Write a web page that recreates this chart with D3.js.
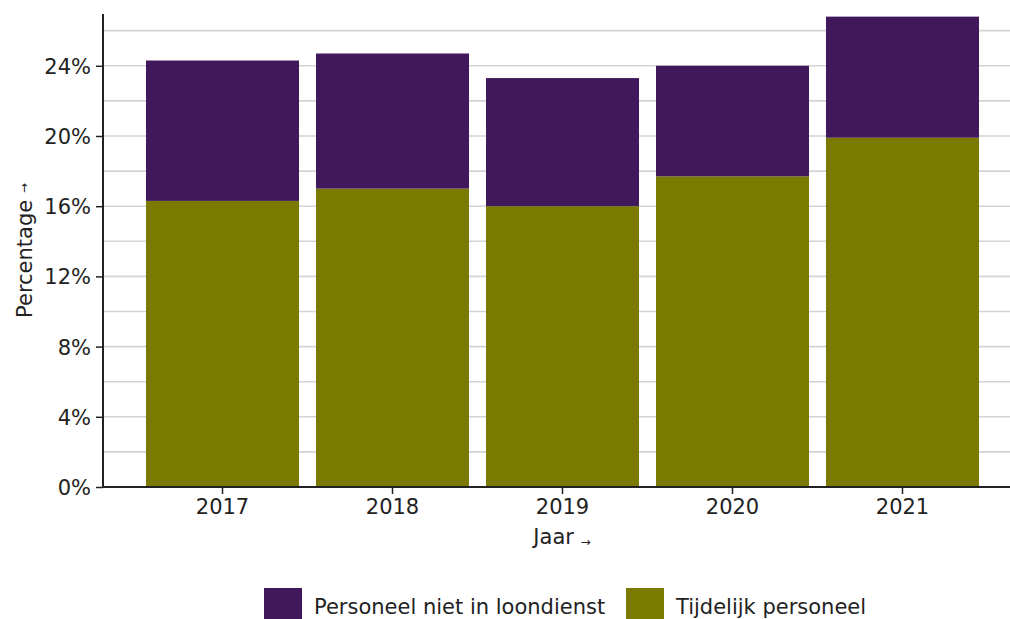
<!DOCTYPE html>
<html><head><meta charset="utf-8">
<script src="https://cdn.jsdelivr.net/npm/d3@7"></script>
<style>
html,body{margin:0;padding:0;background:#fff;overflow:hidden}
text{font-family:"DejaVu Sans",Verdana,sans-serif;fill:#222}
</style></head>
<body>
<svg id="chart" width="1010" height="619"></svg>
<script>
const years = ["2017","2018","2019","2020","2021"];
const tijdelijk = [16.3, 17.0, 16.0, 17.7, 19.9];
const nietLoondienst = [8.0, 7.7, 7.3, 6.3, 6.9];
const seriesNames = ["Personeel niet in loondienst", "Tijdelijk personeel"];
const seriesColors = ["#42185c", "#7a7a00"];
const yTicks = [0, 4, 8, 12, 16, 20, 24];
const yGrid = [2, 6, 10, 14, 18, 22, 26];

const svg = d3.select("#chart");
const x0 = 103, x1 = 1022, yBottom = 487, yTop = 14;
const FS = "21px";

const x = d3.scaleBand().domain(years).range([x0, x1]).paddingInner(0.1).paddingOuter(0.253);
const y = d3.scaleLinear().domain([0, 26.95]).range([yBottom, yTop]);

// gridlines
const grid = svg.append("g");
grid.selectAll("line").data(yTicks.concat(yGrid).filter(d => d > 0)).join("line")
  .attr("x1", x0).attr("x2", 1010)
  .attr("y1", d => y(d)).attr("y2", d => y(d))
  .attr("stroke", "#d3d3d3").attr("stroke-width", 1.6);

// stacked data
const data = years.map((yr, i) => ({year: yr, t: tijdelijk[i], n: nietLoondienst[i]}));
const stack = d3.stack().keys(["t", "n"])(data);
const colorByKey = {t: seriesColors[1], n: seriesColors[0]};

svg.append("g").selectAll("g").data(stack).join("g")
  .attr("fill", d => colorByKey[d.key])
  .selectAll("rect").data(d => d).join("rect")
  .attr("x", d => x(d.data.year))
  .attr("width", x.bandwidth())
  .attr("y", d => y(d[1]))
  .attr("height", d => y(d[0]) - y(d[1]));

// y axis
const yAxis = svg.append("g").attr("transform", `translate(${x0},0)`)
  .call(d3.axisLeft(y).tickValues(yTicks).tickFormat(d => d + "%").tickSize(7).tickPadding(5));
yAxis.select(".domain").attr("stroke", "#222").attr("stroke-width", 2).attr("d", `M0,${yTop}V${yBottom}`);
yAxis.selectAll(".tick line").attr("stroke", "#222").attr("stroke-width", 1.5);
yAxis.selectAll(".tick text").style("font-size", FS).style("font-family", '"DejaVu Sans",Verdana,sans-serif').attr("fill", "#222").attr("dy", "0.36em");

// x axis
const xAxis = svg.append("g").attr("transform", `translate(0,${yBottom})`)
  .call(d3.axisBottom(x).tickSize(7).tickPadding(5));
xAxis.select(".domain").attr("stroke", "#222").attr("stroke-width", 2).attr("d", `M${x0},0H1010`);
xAxis.selectAll(".tick line").attr("stroke", "#222").attr("stroke-width", 1.5);
xAxis.selectAll(".tick text").style("font-size", FS).style("font-family", '"DejaVu Sans",Verdana,sans-serif').attr("fill", "#222");

// axis titles
const xt = svg.append("text").attr("x", 562).attr("y", 544).attr("text-anchor", "middle").style("font-size", FS);
xt.append("tspan").text("Jaar ");
xt.append("tspan").text("→").style("font-size", "12px").attr("dy", "2");

const yt = svg.append("text").attr("transform", `translate(32,${(yTop + yBottom) / 2}) rotate(-90)`)
  .attr("text-anchor", "middle").style("font-size", FS);
yt.append("tspan").text("Percentage ");
yt.append("tspan").text("→").style("font-size", "12px").attr("dy", "-4");

// legend
const legendX = [264, 626];
const lg = svg.append("g");
seriesNames.forEach((name, i) => {
  lg.append("rect").attr("x", legendX[i]).attr("y", 588).attr("width", 38).attr("height", 40).attr("fill", seriesColors[i]);
  lg.append("text").attr("x", legendX[i] + 50).attr("y", 614).style("font-size", FS).text(name);
});
</script>
</body></html>
